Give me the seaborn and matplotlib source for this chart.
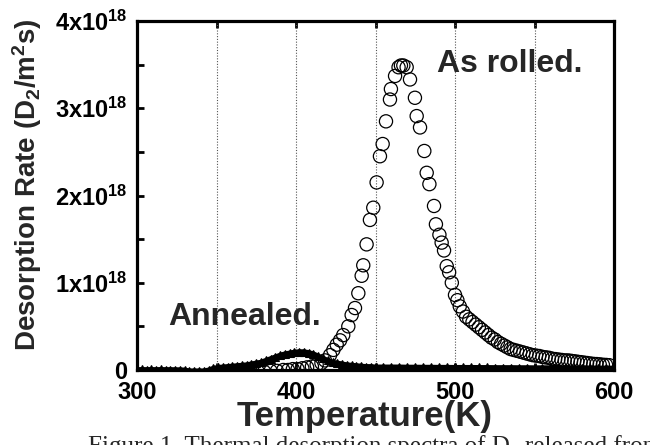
import matplotlib
matplotlib.use("Agg")
import matplotlib.pyplot as plt
import seaborn as sns
import numpy as np
import pandas as pd

# ---- data (desorption rate in units of 1e18 D2/m^2 s) ----
rolled_T = [372, 376, 380, 384, 388, 392, 395, 398, 401, 404, 407, 410, 413, 416,
            418.2, 421.4, 423.5, 425.6, 427.7, 429.7, 432.9, 435.0, 437.1, 439.2,
            441.3, 442.3, 444.4, 446.5, 448.6, 450.7, 452.8, 454.5, 456.6, 459.1,
            459.7, 462.3, 464.5, 466.0, 467.5, 469.6, 471.7, 474.8, 475.9, 478.0,
            480.7, 482.2, 483.9, 486.8, 488.0, 490.2, 491.6, 493.1, 494.8, 496.3,
            498.0, 500.0, 501.5, 503.0, 505.0, 507.0, 509.0, 511.0, 513.0, 515.0,
            517.0, 519.0, 521.0, 523.0, 525.0, 527.0, 529.0, 531.0, 533.0, 535.0,
            537.0, 539.0, 541.0, 543.0, 545.0, 547.0, 549.0, 551.0, 553.0, 555.0,
            557.0, 559.0, 561.0, 563.0, 565.0, 567.0, 569.0, 571.0, 573.0, 575.0,
            577.0, 579.0, 581.0, 583.0, 585.0, 587.0, 589.0, 591.0, 593.0, 595.0,
            597.0]
rolled_rate = [-0.03, -0.02, -0.02, -0.01, -0.01, 0.00, 0.00, 0.01, 0.01, 0.02,
               0.03, 0.04, 0.06, 0.08,
               0.11, 0.17, 0.23, 0.29, 0.34, 0.40, 0.50, 0.63, 0.71, 0.88,
               1.08, 1.20, 1.44, 1.72, 1.86, 2.15, 2.45, 2.59, 2.85, 3.10,
               3.22, 3.37, 3.47, 3.49, 3.49, 3.47, 3.33, 3.12, 2.91, 2.78,
               2.51, 2.26, 2.13, 1.88, 1.67, 1.55, 1.46, 1.37, 1.19, 1.12,
               1.00, 0.86, 0.80, 0.73, 0.67, 0.61, 0.58, 0.55, 0.52, 0.49,
               0.46, 0.43, 0.40, 0.37, 0.35, 0.32, 0.30, 0.28, 0.26, 0.24,
               0.23, 0.22, 0.21, 0.20, 0.19, 0.18, 0.17, 0.165, 0.16, 0.15,
               0.145, 0.14, 0.13, 0.125, 0.12, 0.115, 0.11, 0.11, 0.105, 0.10,
               0.095, 0.09, 0.085, 0.08, 0.075, 0.07, 0.068, 0.065, 0.06, 0.058,
               0.055]

annealed_T = [300, 303, 306, 309, 312, 315, 318, 321, 324, 327, 330, 333, 336, 339,
              342, 345, 348, 351, 354, 357, 360, 363, 366, 369, 372, 375, 378, 381,
              384, 387, 390, 393, 396, 399, 402, 405, 408, 411, 414, 417, 420, 423,
              426, 429, 432, 435, 438, 441, 444, 447, 450, 455, 460, 465, 470, 475,
              480, 485, 490, 495, 500, 505, 510, 515, 520, 525, 530, 535, 540, 545,
              550, 555, 560, 565, 570, 575, 580, 585, 590, 595, 600]
annealed_rate = [0.005, 0.006, 0.005, 0.006, 0.005, 0.006, 0.005, 0.005, 0.004, 0.003,
                 0.0, -0.01, -0.01, -0.01, -0.01, 0.0, 0.02, 0.03, 0.035, 0.04,
                 0.045, 0.05, 0.055, 0.06, 0.07, 0.08, 0.09, 0.11, 0.13, 0.15,
                 0.17, 0.185, 0.195, 0.205, 0.21, 0.21, 0.20, 0.185, 0.16, 0.135,
                 0.11, 0.09, 0.08, 0.07, 0.06, 0.055, 0.05, 0.045, 0.04, 0.04,
                 0.035, 0.035, 0.035, 0.035, 0.033, 0.033, 0.032, 0.032, 0.031, 0.031,
                 0.030, 0.030, 0.030, 0.029, 0.029, 0.028, 0.028, 0.028, 0.027, 0.027,
                 0.026, 0.026, 0.026, 0.025, 0.025, 0.025, 0.024, 0.024, 0.023, 0.023,
                 0.022]

x_ticks = [300, 350, 400, 450, 500, 550, 600]
x_tick_labels = ["300", "", "400", "", "500", "", "600"]
y_ticks = [0, 0.5, 1, 1.5, 2, 2.5, 3, 3.5, 4]
y_tick_labels = ["0", "", "1x10$^{18}$", "", "2x10$^{18}$", "", "3x10$^{18}$", "", "4x10$^{18}$"]

# ---- style ----
sns.set_theme(style="white")
plt.rcParams["font.family"] = ["Liberation Sans", "DejaVu Sans"]
plt.rcParams["font.weight"] = "bold"
plt.rcParams["mathtext.fontset"] = "custom"
plt.rcParams["mathtext.rm"] = "Liberation Sans:bold"
plt.rcParams["mathtext.it"] = "Liberation Sans:bold"
plt.rcParams["mathtext.bf"] = "Liberation Sans:bold"

fig = plt.figure(figsize=(6.5, 4.45), dpi=100)
ax = fig.add_axes([137/650, (445-370)/445, (614-137)/650, (370-21)/445])

ann_df = pd.DataFrame({"T": annealed_T, "rate": annealed_rate})
rol_df = pd.DataFrame({"T": rolled_T, "rate": rolled_rate})

sns.lineplot(data=ann_df, x="T", y="rate", ax=ax, color="black", lw=3.5,
             marker="^", markersize=5.5, markeredgewidth=0.8,
             markeredgecolor="black", markerfacecolor="black", zorder=3,
             estimator=None, sort=True)
sns.scatterplot(data=rol_df, x="T", y="rate", ax=ax, s=90, marker="o",
                color="black", facecolors="none", edgecolors="black",
                linewidths=0.9, zorder=4)

ax.set_xlim(300, 600)
ax.set_ylim(0, 4)
ax.set_xticks(x_ticks)
ax.set_xticklabels(x_tick_labels)
ax.set_yticks(y_ticks)
ax.set_yticklabels(y_tick_labels)
ax.tick_params(axis="both", direction="in", length=5, width=2, labelsize=17,
               colors="black", pad=9)
ax.tick_params(axis="x", top=True, bottom=True, pad=8)
ax.tick_params(axis="y", left=True, right=False, pad=7)
for lab in ax.get_xticklabels() + ax.get_yticklabels():
    lab.set_fontweight("bold")

for s in ax.spines.values():
    s.set_linewidth(2.3)
    s.set_color("black")

for xv in [350, 400, 450, 500, 550]:
    ax.axvline(xv, color="#555555", lw=0.8, ls=(0, (1, 1.5)), zorder=1)

ax.set_xlabel("")
ax.set_ylabel("Desorption Rate (D$_2$/m$^2$s)", fontsize=20, fontweight="bold",
              labelpad=4)
ax.yaxis.set_label_coords(-0.196, 0.53)

ax.text(488.7, 3.41, "As rolled.", fontsize=23, fontweight="bold", ha="left",
        va="baseline")
ax.text(319.5, 0.52, "Annealed.", fontsize=23, fontweight="bold", ha="left",
        va="baseline")

fig.text(365/650, (445-426)/445, "Temperature(K)", fontsize=25, fontweight="bold",
         ha="center", va="baseline")
fig.text(88/650, (445-435)/445, "Figure 1. Thermal desorption spectra of D\u2082 released from",
         fontsize=18, ha="left", va="top", family=["Liberation Serif", "DejaVu Serif"],
         fontweight="normal")

fig.savefig("out.png", dpi=100)
